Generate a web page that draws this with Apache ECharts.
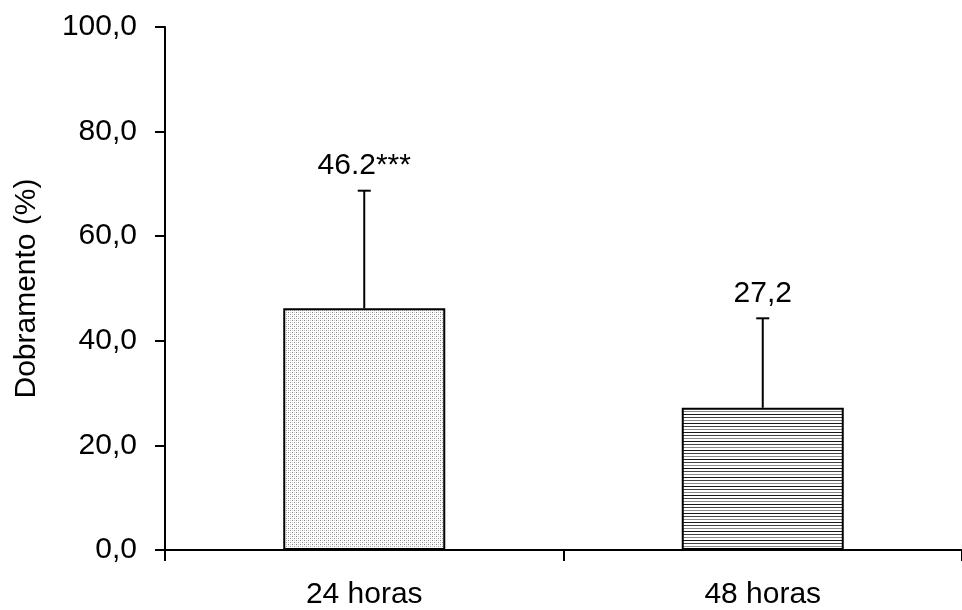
<!DOCTYPE html>
<html>
<head>
<meta charset="utf-8">
<title>Dobramento</title>
<script src="https://cdn.jsdelivr.net/npm/echarts@6/dist/echarts.min.js"></script>
<style>
  html, body { margin: 0; padding: 0; background: #fff; }
  #chart { width: 962px; height: 610px; }
</style>
</head>
<body>
<div id="chart"></div>
<script>
// Mean bending (%) per time point, with upper standard deviation
const categories = ['24 horas', '48 horas'];
const means = [46.2, 27.2];
const deviations = [22.5, 17.1];
const decimalSeps = ['.', ','];
const significance = ['***', ''];
const yTicks = [0, 20, 40, 60, 80, 100];

const FONT = '"Liberation Sans", Arial, sans-serif';
const FONT_SIZE = 30;

// Fill patterns: fine grey stipple and horizontal hatching
function stipple() {
  const c = document.createElement('canvas');
  c.width = 4; c.height = 4;
  const g = c.getContext('2d');
  g.fillStyle = '#ffffff'; g.fillRect(0, 0, 4, 4);
  g.fillStyle = '#808080'; g.fillRect(0, 0, 1, 1);
  g.fillStyle = '#989898'; g.fillRect(2, 2, 1, 1);
  g.fillStyle = '#c8c8c8'; g.fillRect(2, 0, 1, 1); g.fillRect(0, 2, 1, 1);
  return c;
}
function hatching() {
  const c = document.createElement('canvas');
  c.width = 4; c.height = 9;
  const g = c.getContext('2d');
  g.fillStyle = '#ffffff'; g.fillRect(0, 0, 4, 9);
  g.fillStyle = '#1a1a1a'; g.fillRect(0, 0, 4, 1);
  g.fillStyle = '#444444'; g.fillRect(0, 3, 4, 1);
  g.fillStyle = '#8a8a8a'; g.fillRect(0, 6, 4, 1);
  return c;
}
const fills = [
  { image: stipple(), repeat: 'repeat' },
  { image: hatching(), repeat: 'repeat' }
];

const chart = echarts.init(document.getElementById('chart'), null, { renderer: 'canvas' });

chart.setOption({
  backgroundColor: '#ffffff',
  animation: false,
  grid: { left: 165, right: -7, top: 27, bottom: 59, containLabel: false },
  xAxis: {
    type: 'category',
    data: categories,
    boundaryGap: true,
    axisLine: { lineStyle: { color: '#000', width: 2 } },
    axisTick: { show: true, length: 11, inside: false, lineStyle: { color: '#000', width: 2 } },
    axisLabel: { color: '#000', fontFamily: FONT, fontSize: FONT_SIZE, margin: 30 },
    splitLine: { show: false }
  },
  yAxis: {
    type: 'value',
    min: yTicks[0], max: yTicks[yTicks.length - 1], interval: yTicks[1] - yTicks[0],
    name: 'Dobramento (%)',
    nameLocation: 'middle',
    nameGap: 123,
    nameRotate: 90,
    nameTextStyle: { color: '#000', fontFamily: FONT, fontSize: FONT_SIZE },
    axisLine: { show: true, lineStyle: { color: '#000', width: 2 } },
    axisTick: { show: true, length: 10, lineStyle: { color: '#000', width: 2 } },
    axisLabel: {
      color: '#000', fontFamily: FONT, fontSize: FONT_SIZE, margin: 28,
      formatter: v => v.toFixed(1).replace('.', ',')
    },
    splitLine: { show: false }
  },
  series: [
    {
      type: 'bar',
      barWidth: 162,
      data: means.map((v, i) => ({
        value: v,
        itemStyle: { color: fills[i], borderColor: '#000', borderWidth: 2 }
      })),
      z: 2
    },
    {
      type: 'custom',
      z: 3,
      data: means.map((m, i) => [i, m, deviations[i]]),
      renderItem: function (params, api) {
        const i = api.value(0);
        const base = api.coord([i, api.value(1)]);
        const top = api.coord([i, api.value(1) + api.value(2)]);
        const capHalf = 6.5;
        const label = means[i].toFixed(1).replace('.', decimalSeps[i]) + significance[i];
        return {
          type: 'group',
          children: [
            {
              type: 'line',
              shape: { x1: base[0], y1: base[1], x2: top[0], y2: top[1] },
              style: { stroke: '#000', lineWidth: 2 }
            },
            {
              type: 'line',
              shape: { x1: top[0] - capHalf, y1: top[1], x2: top[0] + capHalf, y2: top[1] },
              style: { stroke: '#000', lineWidth: 2 }
            },
            {
              type: 'text',
              x: top[0],
              y: top[1] - 10,
              style: {
                text: label,
                fill: '#000',
                font: FONT_SIZE + 'px ' + FONT,
                textAlign: 'center',
                textVerticalAlign: 'bottom'
              }
            }
          ]
        };
      }
    }
  ]
});
</script>
</body>
</html>
